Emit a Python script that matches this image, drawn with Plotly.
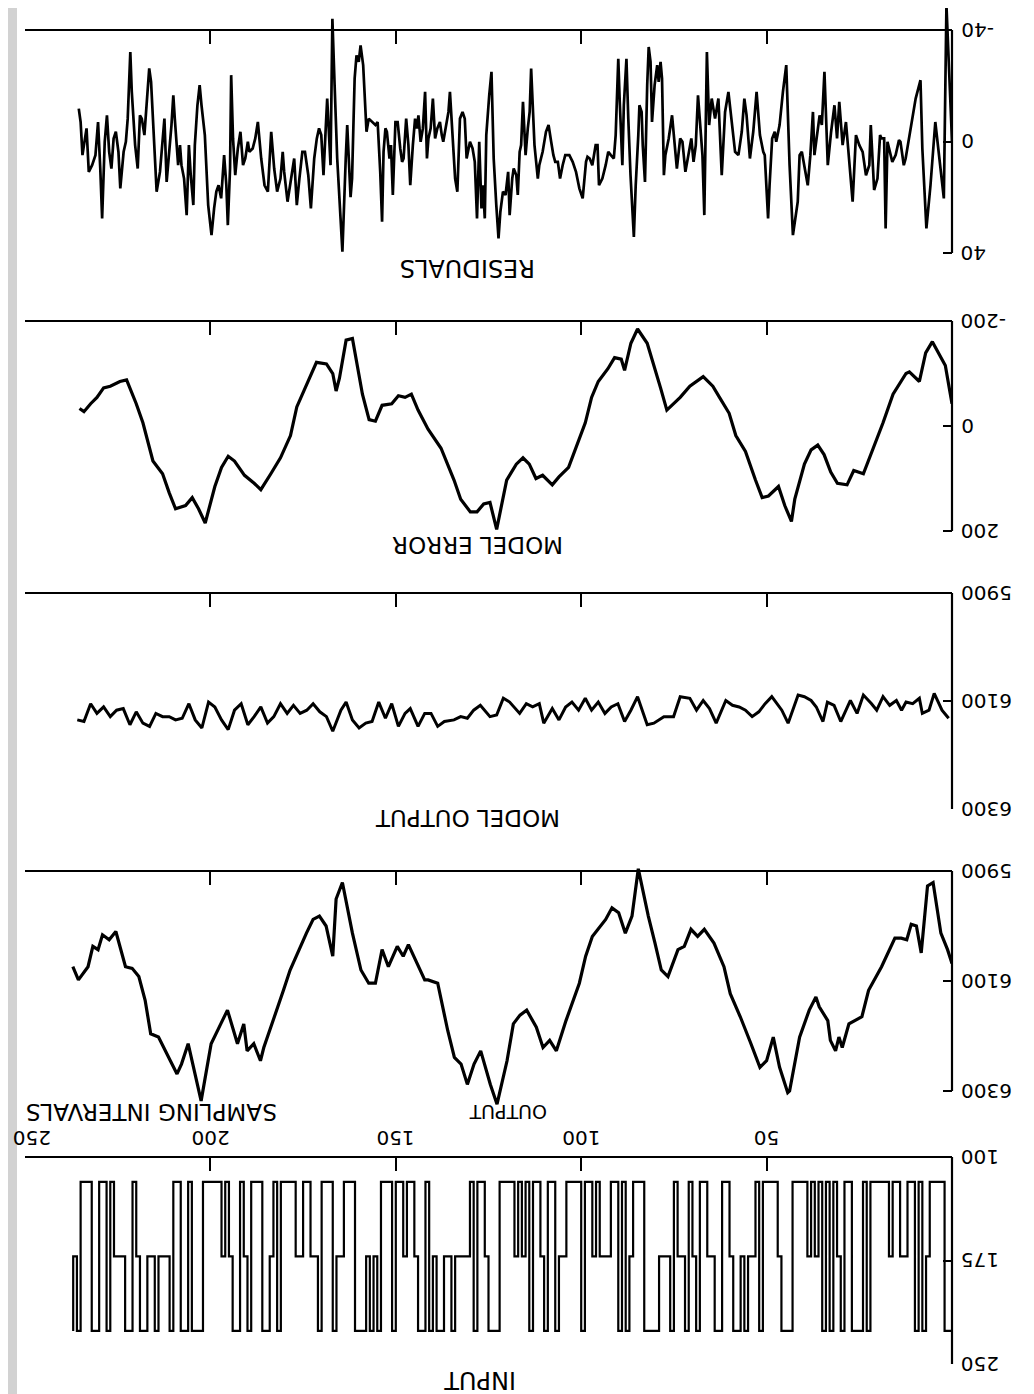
import plotly.graph_objects as go

# The page body has an 8px margin, so the figure is drawn 8px in from the top-left corner.
OFF = 8
W, H = 1034 - OFF, 1394 - OFF
ML, MR = 25 - OFF, 82
PW = W - ML - MR

# ---------------- data ----------------
resid_t = [0.0,0.8,1.5,2.2,4.5,5.8,6.9,8.0,8.5,9.8,11.2,12.5,13.0,13.9,14.3,15.2,16.1,16.5,17.4,17.9,
 18.3,19.0,19.4,20.1,21.0,21.9,22.3,23.2,24.1,25.0,25.9,26.8,27.7,28.6,29.5,30.4,31.0,31.7,32.6,33.5,
 34.4,35.1,35.7,36.4,37.1,37.5,38.2,38.9,39.8,40.5,41.1,41.6,42.9,43.8,44.7,45.6,46.5,47.4,47.8,48.5,
 49.2,49.6,50.5,50.9,51.8,52.7,53.6,54.5,55.4,56.0,56.7,57.6,58.5,59.4,60.3,61.2,62.1,63.0,63.9,64.8,
 65.5,66.1,66.8,67.3,67.9,68.5,69.1,69.7,70.3,71.0,71.9,72.7,73.3,74.2,74.8,75.5,76.4,77.3,77.7,78.2,
 78.6,79.1,79.5,80.2,80.9,81.3,81.8,82.2,82.8,83.4,83.7,84.3,84.6,85.3,85.8,86.7,87.3,87.8,88.5,88.9,
 89.6,90.0,90.7,91.2,92.0,92.7,93.4,94.3,95.2,95.6,96.1,97.0,97.7,98.3,98.7,99.6,100.5,101.4,102.3,103.2,
 104.3,105.0,105.7,106.3,107.0,107.5,108.1,108.8,109.5,110.4,111.3,111.7,112.6,113.5,113.9,114.4,115.0,115.7,116.2,116.6,
 117.1,117.5,118.2,118.6,119.3,119.7,120.4,121.1,121.8,122.3,122.9,123.6,124.2,124.8,125.6,126.0,126.5,126.9,127.5,128.1,
 128.7,129.3,130.0,130.9,131.4,132.0,132.7,133.4,134.0,134.7,135.4,135.8,136.5,137.2,137.6,138.1,138.8,139.4,140.0,140.6,
 141.2,141.6,142.1,142.7,143.3,143.9,144.3,144.8,145.4,146.1,146.6,147.2,147.9,148.3,148.8,149.5,150.1,150.8,151.3,151.7,
 152.4,152.8,153.3,153.7,154.2,154.9,155.5,156.4,157.3,157.9,158.4,158.8,159.5,160.0,160.6,161.1,161.5,161.8,162.2,163.1,
 163.5,164.4,164.9,165.8,166.5,167.1,167.6,168.0,168.5,168.9,169.5,170.1,170.7,171.3,172.0,172.9,173.6,174.5,175.2,176.0,
 176.7,177.4,178.3,179.2,180.1,180.5,181.1,182.0,182.8,183.6,184.5,185.4,186.3,187.2,187.9,188.6,189.5,189.9,190.6,191.2,
 191.9,192.6,193.3,193.9,194.4,194.7,195.3,195.7,196.3,197.1,197.8,198.4,199.0,199.7,200.6,201.5,202.4,202.9,203.5,204.2,
 204.6,205.3,205.8,206.4,207.1,207.8,208.2,208.7,209.6,210.0,210.5,211.2,211.8,212.4,213.0,213.6,214.5,214.9,215.6,216.0,
 216.5,217.2,217.8,218.5,219.0,219.6,220.3,221.2,221.6,222.3,222.8,223.4,224.3,224.8,225.5,226.1,226.7,227.3,227.9,228.5,
 229.2,229.7,230.3,231.0,231.9,232.8,233.4,234.1,234.5,235.0,235.5]
resid_v = [0,-25,-49,20.4,-7.0,15.7,31.2,2.5,-22.0,-15.4,-3.5,6.1,8.5,0.1,-0.5,4.9,7.3,4.9,0.1,31.2,
 -1.1,-1.1,-2.3,13.3,17.4,-5.9,8.5,12.1,3.7,1.3,-2.3,21.6,6.1,-7.0,1.3,-14.2,-1.1,-13.0,-3.5,8.5,
 -25.0,-5.9,-9.4,-1.1,4.9,-10.6,4.9,15.7,8.5,3.7,4.9,21.6,33.6,8.5,-27.4,-17.8,-5.9,0.1,-3.5,-1.1,
 15.7,27.6,4.9,3.7,-2.3,-17.8,-3.5,6.1,-9.4,-15.4,-3.5,4.9,3.7,-8.2,-17.8,-10.6,12.1,-15.4,-8.2,-15.4,
 -5.9,-32.1,26.4,4.9,-5.9,-16.6,1.3,7.3,-1.1,4.9,10.9,0.1,-1.1,9.7,1.3,-9.4,-1.1,4.9,12.1,-22.6,
 -28.6,-21.4,-27.4,-20.2,-7.0,-28.6,-33.9,-20.2,14.5,1.3,-10.6,-13.0,-2.3,15.7,34.2,12.1,-8.2,-29.7,-13.0,8.5,
 -14.2,-29.7,-2.3,6.1,4.9,3.7,8.5,13.3,15.7,1.3,1.3,8.5,6.1,5.5,7.3,20.4,16.8,10.9,7.3,4.9,
 4.9,8.5,13.3,7.3,7.3,4.9,0.1,-5.9,-3.5,3.7,8.5,13.3,1.3,-26.2,-10.6,-4.7,4.9,-14.2,1.3,3.7,
 19.2,12.1,9.7,13.3,26.4,10.9,19.2,18.0,25.2,34.8,22.8,6.1,-25.0,-16.6,-2.3,27.6,15.7,24.0,0.1,27.6,
 7.3,2.5,0.1,6.1,-8.2,-10.6,-8.2,18.0,13.3,-4.7,-17.8,-10.6,-4.7,0.1,-2.3,-7.0,-4.7,-1.1,-15.4,-4.7,
 -1.1,6.1,-17.8,-4.7,0.1,-9.4,-4.7,-8.2,1.3,15.7,1.3,-8.2,6.1,7.3,2.5,-7.0,-7.0,19.2,1.3,6.1,
 -3.5,-4.7,3.7,28.8,10.9,-7.0,-5.9,-7.0,-8.2,-3.5,-15.4,-27.4,-34.5,-28.6,-30.9,-22.6,-2.3,13.3,20.0,-5.9,
 6.1,39.5,27.6,6.1,-20.2,-44.0,8.5,-2.3,-15.4,-4.7,12.1,-2.3,-4.7,-1.1,6.1,24.0,12.1,3.7,3.7,13.3,
 22.8,6.1,13.3,21.6,10.9,3.7,13.3,18.0,9.7,-3.5,18.0,15.7,6.1,-7.0,-1.1,2.5,3.7,0.1,6.1,8.5,
 -3.5,2.5,12.1,-1.1,-23.8,9.7,30.0,15.7,4.9,20.4,15.7,18.0,24.0,33.6,22.8,-2.3,-13.0,-20.2,-13.0,1.3,
 22.8,12.1,1.3,26.4,13.3,8.5,1.3,8.5,-8.2,-16.6,-5.9,3.7,14.5,-8.2,0.1,10.9,18.0,7.3,-8.2,-21.4,
 -26.2,-11.8,-2.3,-8.2,-9.4,9.7,1.3,-17.8,-32.1,-8.2,0.1,3.7,16.8,3.7,-3.5,-1.1,9.7,3.7,-9.4,0.1,
 27.6,9.7,-7.0,4.9,8.5,10.9,-4.7,1.3,4.9,-7.0,-11.8]

error_t = [0.0,1.8,5.3,7.1,8.8,11.5,12.4,15.9,18.6,21.2,23.9,26.5,28.3,30.9,32.7,34.5,36.2,38.0,39.8,42.4,
 43.3,45.1,46.8,49.5,51.2,53.0,55.7,58.3,60.1,62.7,64.5,67.1,68.9,70.7,73.3,76.9,78.6,80.4,82.2,84.8,
 86.6,88.3,89.2,91.0,92.8,95.4,97.2,98.9,101.6,103.4,106.0,107.8,110.4,112.2,114.0,115.7,117.5,120.1,122.8,124.6,
 126.3,128.1,129.9,132.5,134.3,137.8,141.3,144.0,145.8,147.5,149.3,151.1,153.7,155.5,157.2,159.0,161.7,163.4,165.2,166.1,
 167.0,168.7,171.4,174.0,176.7,178.4,181.1,183.7,186.4,188.2,190.8,193.5,195.2,197.0,198.8,201.4,203.2,204.9,206.7,209.4,
 211.1,212.9,215.5,218.2,220.0,222.6,224.4,227.0,228.8,230.6,232.3,234.1,235.3]
error_v = [-42.4,-115.2,-160.6,-139.4,-84.8,-103.0,-100.0,-60.6,-6.1,42.4,90.9,84.8,112.1,109.1,87.9,54.5,36.4,45.5,72.7,139.4,
 181.8,151.5,115.2,133.3,136.4,103.0,48.5,18.2,-24.2,-54.5,-75.8,-93.9,-84.8,-75.8,-54.5,-30.3,-72.7,-115.2,-157.6,-184.8,
 -157.6,-106.1,-127.3,-130.3,-109.1,-84.8,-54.5,-6.1,42.4,78.8,97.0,112.1,93.9,100.0,72.7,60.6,72.7,103.0,197.0,145.5,
 148.5,163.6,163.6,139.4,103.0,42.4,6.1,-30.3,-60.6,-54.5,-57.6,-42.4,-39.4,-9.1,-12.1,-60.6,-166.7,-163.6,-90.9,-66.7,
 -100.0,-118.2,-121.2,-78.8,-36.4,18.2,60.6,90.9,121.2,109.1,93.9,66.7,57.6,78.8,115.2,184.8,157.6,136.4,151.5,157.6,
 127.3,90.9,66.7,-6.1,-42.4,-87.9,-84.8,-75.8,-72.7,-54.5,-42.4,-27.3,-33.3]

model_t = [0.9,2.7,4.8,6.2,8.0,8.8,10.6,12.4,13.6,15.0,16.8,18.6,20.3,21.7,23.9,25.6,27.4,30.0,31.8,33.6,
 34.8,36.6,38.0,39.8,41.5,44.2,45.9,48.6,50.4,52.1,53.9,55.7,57.4,59.2,61.0,63.6,65.4,67.1,68.9,70.7,
 73.3,75.1,77.7,80.4,82.2,84.8,86.6,88.3,90.1,91.9,93.6,95.4,97.2,98.9,100.7,102.5,104.2,106.0,107.8,110.1,
 111.3,113.1,114.8,116.6,119.3,121.0,122.8,124.6,127.2,129.0,130.7,132.5,134.3,136.9,138.7,140.5,142.2,144.0,146.1,147.5,
 149.3,151.1,152.8,154.6,156.4,158.1,159.9,161.7,163.4,164.8,167.0,168.7,170.5,172.3,174.0,175.8,177.6,179.3,181.1,182.9,
 184.6,186.4,188.2,189.9,191.7,193.5,195.2,197.0,198.8,200.5,202.3,204.1,205.8,207.6,209.4,211.1,212.9,214.7,216.4,218.2,
 220.0,221.7,223.5,225.3,227.0,228.8,230.6,232.3,234.1,235.9]
model_v = [6132,6117,6086,6117,6123,6095,6105,6102,6117,6099,6108,6092,6117,6105,6089,6123,6099,6138,6108,6102,
 6138,6111,6099,6092,6089,6141,6117,6092,6105,6120,6129,6117,6111,6108,6099,6141,6114,6099,6117,6095,
 6092,6129,6129,6141,6144,6092,6117,6138,6105,6111,6123,6102,6117,6095,6117,6102,6111,6135,6114,6141,
 6105,6111,6105,6123,6102,6095,6126,6129,6108,6117,6132,6129,6135,6138,6147,6123,6123,6147,6114,6123,
 6147,6105,6132,6102,6138,6141,6150,6135,6102,6117,6156,6129,6120,6105,6117,6123,6108,6123,6105,6129,
 6141,6111,6129,6144,6105,6117,6153,6135,6111,6102,6150,6135,6105,6132,6135,6129,6129,6123,6147,6141,
 6120,6144,6114,6117,6129,6111,6123,6105,6138,6135]

output_t = [0.0,1.2,3.0,5.1,6.6,8.3,9.6,11.0,12.2,13.7,15.4,19.0,22.5,24.3,27.8,29.6,30.5,31.4,32.8,33.5,
 35.8,36.7,38.5,41.1,43.8,44.3,46.5,48.2,50.0,51.8,54.4,57.1,59.8,61.5,64.2,66.8,68.6,70.4,72.2,73.9,
 76.6,78.4,80.1,81.9,84.6,86.3,88.1,89.9,91.7,93.4,97.0,98.8,100.5,104.1,106.7,108.5,110.3,112.1,114.7,116.5,
 118.3,120.0,122.7,124.5,127.1,128.9,130.7,132.4,134.2,136.0,138.7,141.3,142.2,146.6,148.0,149.6,152.0,153.7,155.5,157.3,
 159.4,161.7,164.4,166.1,167.0,168.8,170.6,172.3,174.1,176.8,178.5,180.3,183.0,185.6,186.5,188.3,190.1,191.0,192.7,195.4,
 197.2,199.8,202.5,204.3,206.0,207.8,209.0,210.8,212.6,214.0,216.1,217.6,219.3,221.1,222.9,225.5,227.3,229.1,230.3,231.7,
 233.0,234.4,235.6,237.1]
output_v = [6068,6043,6013,5921,5927,6049,6000,5997,6025,6022,6022,6074,6117,6165,6178,6221,6202,6227,6208,6172,
 6147,6129,6153,6202,6300,6303,6257,6202,6245,6257,6211,6165,6123,6074,6031,6006,6019,6006,6037,6043,
 6092,6080,6031,5982,5896,5982,6013,5976,5967,5988,6019,6055,6104,6172,6227,6208,6221,6184,6153,6162,
 6178,6245,6324,6288,6227,6251,6288,6251,6239,6190,6104,6098,6098,6034,6055,6037,6074,6043,6104,6104,
 6080,6013,5921,5951,6055,6000,5982,5988,6013,6055,6080,6117,6172,6221,6245,6214,6227,6178,6214,6153,
 6178,6214,6318,6263,6214,6251,6269,6245,6221,6202,6196,6135,6092,6077,6074,6010,6025,6016,6043,6037,
 6074,6086,6098,6074]

input_v = [
 226,226,118,118,118,118,172,226,118,226,
 118,118,172,172,118,118,172,118,118,118,
 118,118,226,118,226,226,226,118,118,226,
 172,118,226,118,226,118,172,118,172,118,
 118,118,118,226,226,226,172,118,118,118,
 118,226,118,172,172,226,172,226,226,172,
 118,118,226,226,172,172,118,118,226,172,
 118,226,172,172,118,226,172,172,172,226,
 226,226,226,118,118,118,172,226,118,226,
 118,118,172,172,172,118,172,118,118,226,
 118,118,118,118,172,172,226,118,118,226,
 172,118,118,226,118,172,118,172,118,118,
 118,118,226,226,226,172,118,118,226,118,
 172,172,172,172,226,172,172,226,226,172,
 226,118,226,226,172,118,118,172,118,118,
 226,118,118,118,226,172,226,172,226,226,
 226,118,118,118,172,172,226,118,118,118,
 226,172,172,118,118,172,172,118,118,118,
 118,226,118,172,226,226,118,118,118,226,
 172,118,226,226,172,118,172,118,118,118,
 118,118,226,226,226,118,226,226,118,118,
 226,172,172,172,226,172,172,226,226,172,
 118,226,226,172,172,172,118,226,118,118,
 226,226,118,118,118,226,172,226]
input_t = list(range(len(input_v)))

x_ticks = [50, 100, 150, 200, 250]
resid_ticks = [-40, 0, 40]
error_ticks = [-200, 0, 200]
model_ticks = [5900, 6100, 6300]
output_ticks = [5900, 6100, 6300]
input_ticks = [100, 175, 250]

# ---------------- layout geometry (page pixels) ----------------
def fy(px):
    return 1 - (px - OFF) / H

def fx(px):
    return (px - 25) / PW

# (ticks, labelled top value, px, labelled bottom value, px, range top, range bottom)
panels = [
    (resid_ticks, -40, 30, 40, 253, -50, 43),
    (error_ticks, -200, 321, 200, 531, -200, 202),
    (model_ticks, 5900, 593, 6300, 809, 5900, 6300),
    (output_ticks, 5900, 871, 6300, 1091, 5888, 6332),
    (input_ticks, 100, 1157, 250, 1364, 100, 250),
]
series = [
    (resid_t, resid_v, 2.7, "linear"),
    (error_t, error_v, 3.2, "linear"),
    (model_t, model_v, 3.0, "linear"),
    (output_t, output_v, 3.2, "linear"),
    (input_t, input_v, 2.2, "hv"),
]

fig = go.Figure()
shapes = []
annotations = []
NUMFONT = dict(family="DejaVu Sans", size=20, color="black")

for i, ((ticks, vt, pt, vb, pb, rt, rb), (xs, ys, lw, shp)) in enumerate(zip(panels, series), start=1):
    sfx = "" if i == 1 else str(i)
    scale = (pb - pt) / (vb - vt)
    dom_top = pt + (rt - vt) * scale
    if dom_top < OFF:  # keep the domain inside the figure
        dom_top = OFF
        rt = vt + (OFF - pt) / scale
    dom_bot = pt + (rb - vt) * scale
    if dom_bot > OFF + H:
        dom_bot = OFF + H
        rb = vt + (dom_bot - pt) / scale
    fig.add_trace(go.Scatter(x=xs, y=ys, mode="lines", xaxis="x" + sfx, yaxis="y" + sfx,
                             line=dict(color="black", width=lw, shape=shp), hoverinfo="skip"))
    fig.layout["xaxis" + sfx] = dict(
        domain=[0, 1], range=[250, 0], anchor="free", position=fy(pt), side="top",
        showline=True, linecolor="black", linewidth=2.2, ticks="inside", ticklen=13,
        tickwidth=2, tickcolor="black", tickvals=x_ticks, showticklabels=False,
        showgrid=False, zeroline=False, fixedrange=True)
    fig.layout["yaxis" + sfx] = dict(
        domain=[max(0, fy(dom_bot)), min(1, fy(dom_top))], range=[rb, rt], anchor="x" + sfx,
        side="right", showline=False, ticks="inside", ticklen=9, tickwidth=2, tickcolor="black",
        tickvals=ticks, showticklabels=False, showgrid=False, zeroline=False, fixedrange=True)
    shapes.append(dict(type="line", xref="paper", yref="paper", x0=1, x1=1,
                       y0=fy(pt), y1=fy(pb), line=dict(color="black", width=2.2)))
    for tv in ticks:
        annotations.append(dict(text=str(tv), xref="paper", yref="y" + sfx, x=fx(959), y=tv,
                                xanchor="left", yanchor="middle", showarrow=False,
                                textangle=180, font=NUMFONT))

# x tick labels (only above the input panel); the end label sits just inside the page edge
for tv in x_ticks:
    if tv == 250:
        annotations.append(dict(text=str(tv), xref="paper", yref="paper", x=fx(11), y=fy(1138),
                                xanchor="left", yanchor="middle", showarrow=False,
                                textangle=180, font=NUMFONT))
    else:
        annotations.append(dict(text=str(tv), xref="x5", yref="paper", x=tv, y=fy(1138),
                                xanchor="center", yanchor="middle", showarrow=False,
                                textangle=180, font=NUMFONT))

titles = [("RESIDUALS", 468, 268, 24), ("MODEL ERROR", 478, 545, 23), ("MODEL OUTPUT", 468, 818, 23),
          ("OUTPUT", 508, 1112, 19), ("SAMPLING INTERVALS", 152, 1112, 23), ("INPUT", 480, 1380, 24)]
for txt, px, py, fs in titles:
    annotations.append(dict(text=txt, xref="paper", yref="paper", x=fx(px), y=fy(py),
                            xanchor="center", yanchor="middle", showarrow=False,
                            textangle=180, font=dict(family="DejaVu Sans", size=fs, color="black")))

# scanned page edge
shapes.append(dict(type="rect", xref="paper", yref="paper", x0=fx(OFF), x1=fx(17), y0=0, y1=1,
                   fillcolor="#d2d2d2", line=dict(width=0), layer="below"))

fig.update_layout(width=W, height=H, margin=dict(l=ML, r=MR, t=0, b=0, pad=0),
                  paper_bgcolor="white", plot_bgcolor="white", showlegend=False,
                  shapes=shapes, annotations=annotations)

fig.write_html("out.html")
